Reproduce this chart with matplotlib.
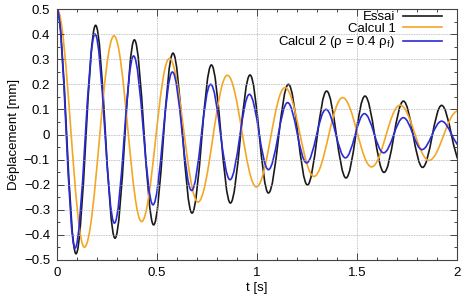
import matplotlib
matplotlib.use("Agg")
import matplotlib.pyplot as plt
from matplotlib.path import Path
from matplotlib.patches import PathPatch
from matplotlib.lines import Line2D
from matplotlib.ticker import MultipleLocator, FuncFormatter

plt.rcParams['font.family'] = ['Liberation Sans', 'DejaVu Sans']
plt.rcParams['mathtext.fontset'] = 'custom'
plt.rcParams['mathtext.rm'] = 'Liberation Sans'
plt.rcParams['mathtext.it'] = 'Liberation Sans:italic'

# Extrema (time [s], displacement [mm])
t_essai = [0, 0.095, 0.193, 0.290, 0.387, 0.483, 0.580, 0.675, 0.772, 0.867, 0.965,
           1.057, 1.157, 1.252, 1.348, 1.445, 1.540, 1.635, 1.732, 1.828, 1.923, 2.02]
y_essai = [0.5, -0.475, 0.435, -0.413, 0.377, -0.36, 0.324, -0.313, 0.277, -0.273, 0.237,
           -0.233, 0.2, -0.201, 0.173, -0.173, 0.153, -0.151, 0.133, -0.131, 0.116, -0.113]

t_calc1 = [0, 0.137, 0.285, 0.423, 0.562, 0.705, 0.852, 0.997, 1.14, 1.285, 1.428,
           1.573, 1.715, 1.86, 2.005]
y_calc1 = [0.5, -0.449, 0.393, -0.347, 0.303, -0.269, 0.236, -0.209, 0.187, -0.167, 0.147,
           -0.129, 0.117, -0.103, 0.094]

t_calc2 = [0, 0.09, 0.19, 0.287, 0.383, 0.48, 0.577, 0.673, 0.768, 0.865, 0.962,
           1.057, 1.153, 1.248, 1.345, 1.442, 1.537, 1.633, 1.732, 1.825, 1.923, 2.02]
y_calc2 = [0.5, -0.453, 0.40, -0.353, 0.313, -0.28, 0.249, -0.223, 0.20, -0.18, 0.16,
           -0.14, 0.127, -0.113, 0.10, -0.093, 0.083, -0.073, 0.067, -0.06, 0.053, -0.048]

labels = ["Essai", "Calcul 1", "Calcul 2 (ρ = 0.4 ρ$_\\mathrm{f}$)"]
colors = ["#1a1a1a", "#f5a623", "#2a2ad8"]
x_ticks = [0, 0.5, 1, 1.5, 2]
y_ticks = [-0.5, -0.4, -0.3, -0.2, -0.1, 0, 0.1, 0.2, 0.3, 0.4, 0.5]


def smooth_path(ts, ys, k=0.3634):
    verts = [(ts[0], ys[0])]
    codes = [Path.MOVETO]
    for i in range(len(ts) - 1):
        t0, y0, t1, y1 = ts[i], ys[i], ts[i + 1], ys[i + 1]
        dt = t1 - t0
        verts += [(t0 + k * dt, y0), (t1 - k * dt, y1), (t1, y1)]
        codes += [Path.CURVE4] * 3
    return Path(verts, codes)


fig = plt.figure(figsize=(4.61, 2.97), dpi=100)
ax = fig.add_axes([57 / 461, 1 - 260 / 297, 400 / 461, 251 / 297])

series = [(t_essai, y_essai), (t_calc1, y_calc1), (t_calc2, y_calc2)]
handles = []
for (ts, ys), c, lab in zip(series, colors, labels):
    patch = PathPatch(smooth_path(ts, ys), facecolor='none', edgecolor=c, lw=1.2,
                      transform=ax.transData)
    ax.add_patch(patch)
    handles.append(Line2D([], [], color=c, lw=1.2, label=lab))

ax.set_xlim(0, 2)
ax.set_ylim(-0.5, 0.5)
ax.set_xticks(x_ticks)
ax.set_yticks(y_ticks)
ax.xaxis.set_minor_locator(MultipleLocator(0.1))
ax.yaxis.set_minor_locator(MultipleLocator(0.05))
fmt = FuncFormatter(lambda v, p: ('%g' % round(v, 3)).replace('-', '\u2212'))
ax.xaxis.set_major_formatter(fmt)
ax.yaxis.set_major_formatter(fmt)
ax.tick_params(which='both', direction='in', top=True, right=True, labelsize=9.5,
               color='#444444', width=0.7)
ax.tick_params(which='major', length=5, pad=5)
ax.tick_params(which='minor', length=2.5)
ax.grid(True, which='major', color='#b0b0b0', linestyle=(0, (1, 1)), linewidth=0.6)
for s in ax.spines.values():
    s.set_color('#444444')
    s.set_linewidth(0.8)

ax.set_xlabel("t [s]", fontsize=9.5, labelpad=2)
ax.set_ylabel("Déplacement [mm]", fontsize=9.5, labelpad=3)

ax.legend(handles=handles, loc='upper right', frameon=False, markerfirst=False,
          fontsize=9.5, labelspacing=-0.05, handlelength=3.0, handletextpad=0.55,
          borderaxespad=0.0, borderpad=0.15, bbox_to_anchor=(0.968, 1.0))

fig.savefig("out.png", dpi=100)
